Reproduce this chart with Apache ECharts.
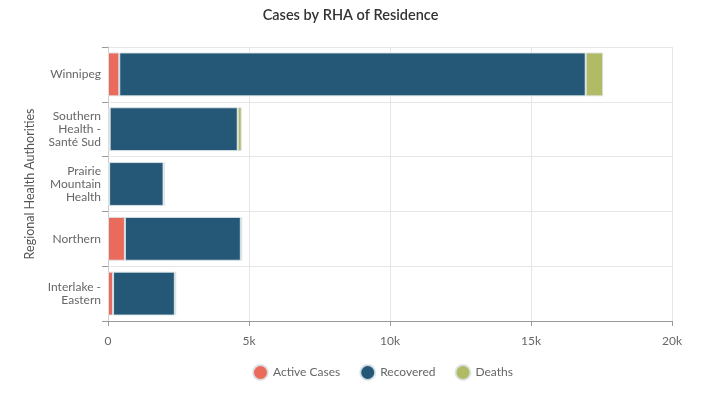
<!DOCTYPE html>
<html>
<head>
<meta charset="utf-8">
<script src="https://cdn.jsdelivr.net/npm/echarts@6/dist/echarts.min.js"></script>
<style>
  html, body { margin: 0; padding: 0; background: #fff; }
  #main-chart { width: 701px; height: 396px; }
</style>
</head>
<body>
<div id="main-chart"></div>
<script>
// Regions, top to bottom as drawn
var regions = ['Winnipeg', 'Southern\nHealth -\nSanté Sud', 'Prairie\nMountain\nHealth', 'Northern', 'Interlake -\nEastern'];
var activeCases = [400, 60, 40, 600, 180];
var recovered = [16540, 4540, 1930, 4110, 2190];
var deaths = [620, 140, 50, 50, 50];
var xTicks = [0, 5000, 10000, 15000, 20000];

var myChart = echarts.init(document.getElementById('main-chart'));

var barBorder = { borderColor: 'rgba(220,228,232,0.9)', borderWidth: 1 };

var option = {
    textStyle: { fontFamily: 'Lato' },
    title: {
        text: 'Cases by RHA of Residence',
        left: 'center',
        top: 3,
        textStyle: { fontSize: 14.5, fontWeight: 600, color: '#333', fontFamily: 'Lato' }
    },
    legend: {
        left: 247,
        top: 359,
        icon: 'circle',
        itemWidth: 15,
        itemHeight: 15,
        itemGap: 19,
        textStyle: { fontSize: 12, color: '#666' },
        data: ['Active Cases', 'Recovered', 'Deaths']
    },
    grid: { left: 108, right: 29, top: 47, bottom: 75 },
    xAxis: {
        type: 'value',
        min: xTicks[0],
        max: xTicks[xTicks.length - 1],
        interval: 5000,
        axisLine: { show: true, lineStyle: { color: '#999' } },
        axisTick: { show: true, length: 5, lineStyle: { color: '#999' } },
        axisLabel: {
            color: '#666', fontSize: 12, margin: 14,
            formatter: function (v) { return v === 0 ? '0' : (v / 1000) + 'k'; }
        },
        splitLine: { show: true, lineStyle: { color: '#e6e6e6' } }
    },
    yAxis: {
        type: 'category',
        inverse: true,
        data: regions,
        name: 'Regional Health Authorities',
        nameLocation: 'middle',
        nameGap: 71,
        nameTextStyle: { fontSize: 12.5, color: '#555' },
        axisLine: { show: true, lineStyle: { color: '#ccc' } },
        axisTick: { show: true, length: 6, lineStyle: { color: '#999' } },
        axisLabel: { color: '#666', fontSize: 12, margin: 7, lineHeight: 13 },
        splitLine: { show: true, lineStyle: { color: '#e6e6e6' } }
    },
    series: [
        {
            name: 'Active Cases', type: 'bar', stack: 'cases', data: activeCases,
            barCategoryGap: '20%',
            itemStyle: Object.assign({ color: '#ea6b5b' }, barBorder)
        },
        {
            name: 'Recovered', type: 'bar', stack: 'cases', data: recovered,
            itemStyle: Object.assign({ color: '#255876' }, barBorder)
        },
        {
            name: 'Deaths', type: 'bar', stack: 'cases', data: deaths,
            itemStyle: Object.assign({ color: '#b1bb65' }, barBorder)
        }
    ]
};

myChart.setOption(option);
</script>
</body>
</html>
